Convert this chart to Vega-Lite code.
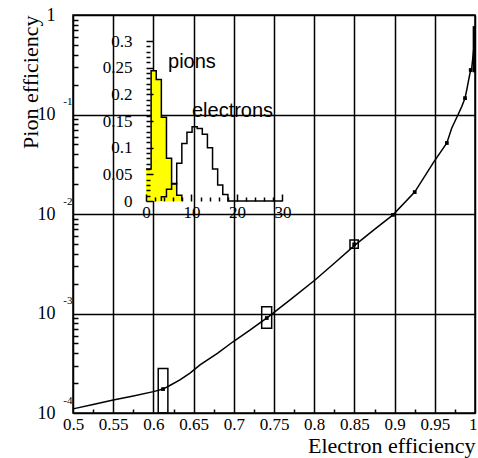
{
  "$schema": "https://vega.github.io/schema/vega-lite/v6.json",
  "width": 402,
  "height": 398,
  "autosize": {"type": "none"},
  "padding": {"left": 73, "top": 15, "right": 3, "bottom": 45},
  "background": "white",
  "config": {
    "view": {"stroke": "black", "strokeWidth": 1.5},
    "font": "Liberation Serif",
    "axis": {
      "labelColor": "black", "titleColor": "black", "tickColor": "black",
      "domainColor": "black", "gridColor": "black", "gridOpacity": 1,
      "labelFont": "Liberation Serif", "titleFont": "Liberation Serif",
      "titleFontWeight": "normal", "labelOverlap": false, "labelFlush": false, "labelBound": false
    }
  },
  "datasets": {
    "curve": [
      {"e": 0.5, "p": 0.00011}, {"e": 0.525, "p": 0.000122}, {"e": 0.55, "p": 0.000135},
      {"e": 0.575, "p": 0.000148}, {"e": 0.6, "p": 0.000164}, {"e": 0.612, "p": 0.000174},
      {"e": 0.621, "p": 0.00019}, {"e": 0.633, "p": 0.000215}, {"e": 0.6455, "p": 0.000252},
      {"e": 0.658, "p": 0.000305}, {"e": 0.68, "p": 0.0004}, {"e": 0.699, "p": 0.00052},
      {"e": 0.72, "p": 0.00068}, {"e": 0.7425, "p": 0.00092}, {"e": 0.77, "p": 0.00137},
      {"e": 0.801, "p": 0.00217}, {"e": 0.825, "p": 0.0032}, {"e": 0.851, "p": 0.0049},
      {"e": 0.875, "p": 0.007}, {"e": 0.898, "p": 0.0098}, {"e": 0.925, "p": 0.0166},
      {"e": 0.948, "p": 0.0326}, {"e": 0.965, "p": 0.0517}, {"e": 0.971, "p": 0.0727},
      {"e": 0.979, "p": 0.1}, {"e": 0.9835, "p": 0.12}, {"e": 0.9876, "p": 0.146},
      {"e": 0.9897, "p": 0.176}, {"e": 0.9917, "p": 0.214}, {"e": 0.9938, "p": 0.261},
      {"e": 0.9959, "p": 0.291}, {"e": 0.999, "p": 0.5}
    ],
    "pts": [
      {"e": 0.612, "p": 0.000174}, {"e": 0.741, "p": 0.0009}, {"e": 0.8497, "p": 0.00495},
      {"e": 0.898, "p": 0.0098}, {"e": 0.925, "p": 0.0166}, {"e": 0.965, "p": 0.0517},
      {"e": 0.9876, "p": 0.146}, {"e": 0.9947, "p": 0.28}
    ],
    "boxes": [
      {"e1": 0.606, "e2": 0.618, "p1": 0.0001, "p2": 0.00028},
      {"e1": 0.7347, "e2": 0.7471, "p1": 0.00071, "p2": 0.00117},
      {"e1": 0.8445, "e2": 0.8548, "p1": 0.00452, "p2": 0.00548},
      {"e1": 0.998, "e2": 0.9995, "p1": 0.27, "p2": 0.76}
    ],
    "pion": [
      {"i": 0, "x": 0, "v": 0.06}, {"i": 1, "x": 1.125, "v": 0.244}, {"i": 2, "x": 2.25, "v": 0.228},
      {"i": 3, "x": 3.375, "v": 0.157}, {"i": 4, "x": 4.5, "v": 0.08}, {"i": 5, "x": 5.625, "v": 0.033},
      {"i": 6, "x": 6.75, "v": 0.011}, {"i": 7, "x": 7.875, "v": 0}
    ],
    "elec": [
      {"i": 0, "x": 3.375, "v": 0}, {"i": 1, "x": 3.375, "v": 0.008}, {"i": 2, "x": 4.5, "v": 0.022},
      {"i": 3, "x": 5.625, "v": 0.032}, {"i": 4, "x": 6.75, "v": 0.071}, {"i": 5, "x": 7.875, "v": 0.108},
      {"i": 6, "x": 9, "v": 0.129}, {"i": 7, "x": 10.125, "v": 0.139}, {"i": 8, "x": 11.25, "v": 0.136},
      {"i": 9, "x": 12.375, "v": 0.125}, {"i": 10, "x": 13.5, "v": 0.1}, {"i": 11, "x": 14.625, "v": 0.06},
      {"i": 12, "x": 15.75, "v": 0.03}, {"i": 13, "x": 16.875, "v": 0.012}, {"i": 14, "x": 18, "v": 0},
      {"i": 15, "x": 30, "v": 0}
    ],
    "labels": [
      {"t": "pions", "x": 4.84, "y": 0.25},
      {"t": "electrons", "x": 10.1, "y": 0.158}
    ]
  },
  "layer": [
    {
      "layer": [
        {
          "data": {"name": "curve"},
          "mark": {"type": "line", "color": "black", "strokeWidth": 1.5},
          "encoding": {
            "x": {
              "field": "e", "type": "quantitative",
              "scale": {"domain": [0.5, 1], "nice": false, "zero": false},
              "axis": {
                "values": [0.5, 0.55, 0.6, 0.65, 0.7, 0.75, 0.8, 0.85, 0.9, 0.95, 1],
                "grid": true, "gridWidth": 1.5, "tickSize": 0, "domain": false,
                "format": "~g", "labelFontSize": 17, "labelPadding": 3,
                "labelAlign": {"condition": {"test": "datum.value >= 1", "value": "right"}, "value": "center"},
                "labelOffset": {"condition": {"test": "datum.value >= 1", "value": 2}, "value": 0},
                "title": "Electron efficiency", "titleFontSize": 22, "titleAnchor": "end", "titlePadding": 3
              }
            },
            "y": {
              "field": "p", "type": "quantitative",
              "scale": {"type": "log", "domain": [0.0001, 1], "nice": false},
              "axis": {
                "values": [0.0001, 0.001, 0.01, 0.1, 1],
                "grid": true, "gridWidth": 1.5, "tickSize": 0, "domain": false,
                "labelExpr": "datum.value >= 0.5 ? '1' : '10'",
                "labelFontSize": 18, "labelPadding": 18,
                "title": "Pion efficiency", "titleFontSize": 22, "titleAnchor": "end",
                "titlePadding": 0, "titleBaseline": "alphabetic"
              }
            }
          }
        },
        {
          "data": {"name": "boxes"},
          "mark": {"type": "rect", "fillOpacity": 0, "stroke": "black", "strokeWidth": 1.5},
          "encoding": {
            "x": {
              "field": "e1", "type": "quantitative",
              "scale": {"domain": [0.5, 1], "nice": false, "zero": false},
              "axis": {
                "values": [0.525, 0.575, 0.625, 0.675, 0.725, 0.775, 0.825, 0.875, 0.925, 0.975],
                "orient": "bottom", "offset": -4, "tickSize": 4, "tickWidth": 1.5,
                "labels": false, "domain": false, "grid": false, "title": null
              }
            },
            "x2": {"field": "e2"},
            "y": {
              "field": "p1", "type": "quantitative",
              "scale": {"type": "log", "domain": [0.0001, 1], "nice": false},
              "axis": {
                "values": [0.0002, 0.0003, 0.0004, 0.0005, 0.0006, 0.0007, 0.0008, 0.0009,
                           0.002, 0.003, 0.004, 0.005, 0.006, 0.007, 0.008, 0.009,
                           0.02, 0.03, 0.04, 0.05, 0.06, 0.07, 0.08, 0.09,
                           0.2, 0.3, 0.4, 0.5, 0.6, 0.7, 0.8, 0.9],
                "orient": "left", "offset": -5, "tickSize": 5, "tickWidth": 1.5,
                "labels": false, "domain": false, "grid": false, "title": null
              }
            },
            "y2": {"field": "p2"}
          }
        },
        {
          "data": {"name": "pts"},
          "mark": {"type": "point", "shape": "square", "filled": true, "size": 14, "color": "black", "opacity": 1},
          "encoding": {
            "x": {
              "field": "e", "type": "quantitative",
              "scale": {"domain": [0.5, 1], "nice": false, "zero": false},
              "axis": null
            },
            "y": {
              "field": "p", "type": "quantitative",
              "scale": {"type": "log", "domain": [0.0001, 1], "nice": false},
              "axis": {
                "values": [0.0001, 0.001, 0.01, 0.1],
                "orient": "left", "tickSize": 0, "domain": false, "grid": false,
                "labelExpr": "'' + round(log(datum.value) / LN10)",
                "labelFontSize": 11, "labelPadding": 1, "labelOffset": -13, "title": null
              }
            }
          }
        }
      ],
      "resolve": {"axis": {"x": "independent", "y": "independent"}}
    },
    {
      "layer": [
        {
          "mark": {"type": "rect", "fill": "white", "stroke": null},
          "encoding": {
            "x": {"datum": 0, "type": "quantitative", "scale": {"domain": [-16.044, 72.308], "nice": false, "zero": false}, "axis": null},
            "x2": {"datum": 30.8},
            "y": {"datum": 0, "type": "quantitative", "scale": {"domain": [-0.3975, 0.34875], "nice": false, "zero": false}, "axis": null},
            "y2": {"datum": 0.324}
          }
        },
        {
          "data": {"name": "pion"},
          "mark": {"type": "area", "interpolate": "step-after", "fill": "#ffff00", "fillOpacity": 1, "stroke": null},
          "encoding": {
            "x": {
              "field": "x", "type": "quantitative",
              "scale": {"domain": [-16.044, 72.308], "nice": false, "zero": false},
              "axis": {
                "orient": "bottom", "offset": -219, "values": [0, 10, 20, 30],
                "tickSize": 7, "tickWidth": 1.5, "domain": false, "grid": false,
                "labelFontSize": 17, "labelPadding": 3, "title": null, "zindex": 1
              }
            },
            "y": {
              "field": "v", "type": "quantitative", "stack": null,
              "scale": {"domain": [-0.3975, 0.34875], "nice": false, "zero": false},
              "axis": {
                "orient": "left", "offset": -80,
                "values": [0, 0.05, 0.1, 0.15, 0.2, 0.25, 0.3],
                "tickSize": 7, "tickWidth": 1.5, "domain": false, "grid": false,
                "labelExpr": "'' + datum.value", "labelFontSize": 17, "labelPadding": 14, "title": null, "zindex": 1
              }
            }
          }
        },
        {
          "data": {"name": "pion"},
          "mark": {"type": "line", "interpolate": "step-after", "color": "black", "strokeWidth": 1.5},
          "encoding": {
            "x": {
              "field": "x", "type": "quantitative",
              "scale": {"domain": [-16.044, 72.308], "nice": false, "zero": false},
              "axis": {
                "orient": "bottom", "offset": -216,
                "values": [2, 4, 6, 8, 12, 14, 16, 18, 22, 24, 26, 28],
                "tickSize": 4, "tickWidth": 1.5, "labels": false, "domain": false, "grid": false,
                "title": null, "zindex": 1
              }
            },
            "y": {
              "field": "v", "type": "quantitative",
              "scale": {"domain": [-0.3975, 0.34875], "nice": false, "zero": false},
              "axis": {
                "orient": "left", "offset": -77,
                "values": [0.01, 0.02, 0.03, 0.04, 0.06, 0.07, 0.08, 0.09, 0.11, 0.12, 0.13, 0.14,
                           0.16, 0.17, 0.18, 0.19, 0.21, 0.22, 0.23, 0.24, 0.26, 0.27, 0.28, 0.29],
                "tickSize": 4, "tickWidth": 1.5, "labels": false, "domain": false, "grid": false,
                "title": null, "zindex": 1
              }
            },
            "order": {"field": "i"}
          }
        },
        {
          "data": {"name": "elec"},
          "mark": {"type": "line", "interpolate": "step-after", "color": "black", "strokeWidth": 1.5},
          "encoding": {
            "x": {"field": "x", "type": "quantitative", "scale": {"domain": [-16.044, 72.308], "nice": false, "zero": false}, "axis": null},
            "y": {"field": "v", "type": "quantitative", "scale": {"domain": [-0.3975, 0.34875], "nice": false, "zero": false}, "axis": null},
            "order": {"field": "i"}
          }
        },
        {
          "mark": {"type": "rule", "color": "black", "strokeWidth": 1.5},
          "encoding": {
            "x": {"datum": 0, "type": "quantitative", "scale": {"domain": [-16.044, 72.308], "nice": false, "zero": false}, "axis": null},
            "y": {"datum": 0, "type": "quantitative", "scale": {"domain": [-0.3975, 0.34875], "nice": false, "zero": false}, "axis": null},
            "y2": {"datum": 0.305}
          }
        },
        {
          "mark": {"type": "rule", "color": "black", "strokeWidth": 1.5},
          "encoding": {
            "x": {"datum": 0, "type": "quantitative", "scale": {"domain": [-16.044, 72.308], "nice": false, "zero": false}, "axis": null},
            "x2": {"datum": 30},
            "y": {"datum": 0, "type": "quantitative", "scale": {"domain": [-0.3975, 0.34875], "nice": false, "zero": false}, "axis": null}
          }
        },
        {
          "data": {"name": "labels"},
          "mark": {"type": "text", "font": "Liberation Sans", "fontSize": 20, "align": "left", "baseline": "alphabetic", "color": "black"},
          "encoding": {
            "x": {"field": "x", "type": "quantitative", "scale": {"domain": [-16.044, 72.308], "nice": false, "zero": false}, "axis": null},
            "y": {"field": "y", "type": "quantitative", "scale": {"domain": [-0.3975, 0.34875], "nice": false, "zero": false}, "axis": null},
            "text": {"field": "t", "type": "nominal"}
          }
        }
      ],
      "resolve": {"axis": {"x": "independent", "y": "independent"}}
    }
  ],
  "resolve": {"scale": {"x": "independent", "y": "independent"}}
}
